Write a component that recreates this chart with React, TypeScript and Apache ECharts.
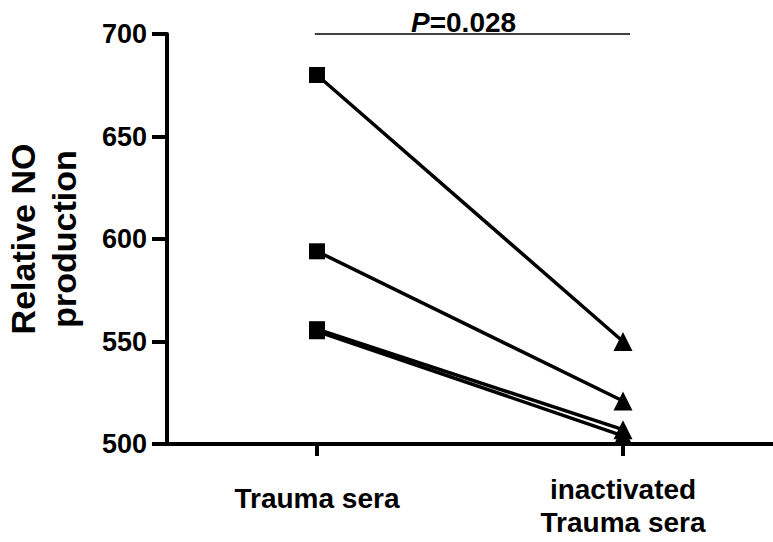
import React, { useEffect, useRef } from "react";
import * as echarts from "echarts";

const categories = ["Trauma sera", "inactivated\nTrauma sera"];
const traumaSera = [680, 594, 556, 555];
const inactivatedSera = [550, 521, 507, 504];
const yTicks = [500, 550, 600, 650, 700];
const pLabel = "0.028";

export default function App() {
  const ref = useRef<HTMLDivElement>(null);
  useEffect(() => {
    if (!ref.current) return;
    const chart = echarts.init(ref.current, null, { renderer: "svg" });
    const font = "'Liberation Sans', Arial, sans-serif";
    const pairSeries = traumaSera.map((v, i) => ({
      type: "line",
      data: [
        { value: [1, v], symbol: "rect", symbolSize: 16 },
        { value: [2, inactivatedSera[i]], symbol: "triangle", symbolSize: 19 },
      ],
      lineStyle: { color: "#000", width: 3.5 },
      itemStyle: { color: "#000" },
      z: 3,
      clip: false,
    }));
    chart.setOption({
      animation: false,
      grid: { left: 167, right: 0, top: 34, bottom: 98, outerBoundsMode: "none", containLabel: false },
      xAxis: {
        type: "value",
        min: 0.51,
        max: 2.49,
        splitLine: { show: false },
        axisLine: { lineStyle: { color: "#000", width: 4 } },
        axisTick: { show: true, customValues: [1, 2], length: 12, lineStyle: { color: "#000", width: 4 } },
        axisLabel: {
          customValues: [1, 2],
          formatter: (v: number) =>
            Math.round(v) === 1 ? "{a|" + categories[0] + "}" : categories[1].split("\n").map((s) => "{b|" + s + "}").join("\n"),
          color: "#000",
          fontWeight: "bold",
          fontSize: 28,
          fontFamily: font,
          margin: 29,
          rich: {
            a: { fontWeight: "bold", fontSize: 28, fontFamily: font, lineHeight: 51, color: "#000" },
            b: { fontWeight: "bold", fontSize: 28, fontFamily: font, lineHeight: 33, color: "#000" },
          },
        },
      },
      yAxis: {
        type: "value",
        min: 500,
        max: 700,
        interval: 50,
        splitLine: { show: false },
        axisLine: { show: true, lineStyle: { color: "#000", width: 4 } },
        axisTick: { show: true, length: 15, lineStyle: { color: "#000", width: 4 } },
        axisLabel: {
          color: "#000",
          fontWeight: "bold",
          fontSize: 27,
          fontFamily: font,
          margin: 20,
          formatter: (v: number) => (yTicks.includes(v) ? String(v) : ""),
        },
        name: "Relative NO\nproduction",
        nameLocation: "middle",
        nameRotate: 90,
        nameGap: 83,
        nameTextStyle: {
          color: "#000",
          fontWeight: "bold",
          fontSize: 34,
          fontFamily: font,
          lineHeight: 41,
        },
      },
      series: [
        ...pairSeries,
        {
          type: "line",
          data: [
            [0.993, 700],
            [2.023, 700],
          ],
          symbol: "none",
          lineStyle: { color: "#000", width: 1.5 },
          clip: false,
          z: 2,
        },
      ],
      graphic: [
        {
          type: "text",
          left: 411,
          top: 8,
          style: {
            text: "{i|P}{n|=" + pLabel + "}",
            rich: {
              i: { fontStyle: "italic", fontWeight: "bold", fontSize: 28, fontFamily: font, fill: "#000" },
              n: { fontWeight: "bold", fontSize: 28, fontFamily: font, fill: "#000" },
            },
          },
        },
      ],
    });
    return () => chart.dispose();
  }, []);
  return <div ref={ref} style={{ width: 773, height: 542, position: "fixed", left: 0, top: 0, background: "#fff" }} />;
}
